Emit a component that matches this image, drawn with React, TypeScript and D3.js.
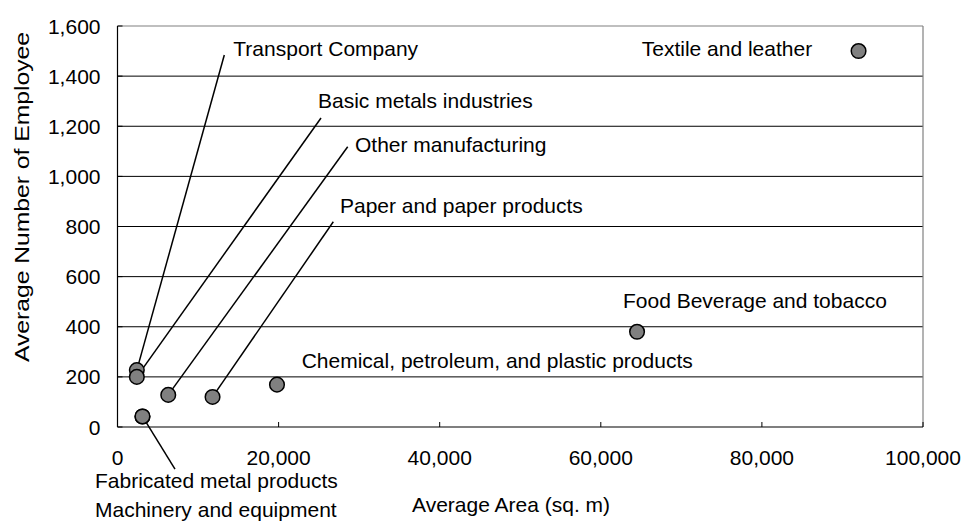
import React from "react";
import * as d3 from "d3";

const categories = [
  "Transport Company",
  "Basic metals industries",
  "Other manufacturing",
  "Paper and paper products",
  "Chemical, petroleum, and plastic products",
  "Food Beverage and tobacco",
  "Textile and leather",
  "Fabricated metal products",
  "Machinery and equipment",
];
const avgArea = [2400, 2400, 6300, 11800, 19800, 64500, 92000, 3100, 3100];
const avgEmployees = [227, 200, 128, 120, 169, 380, 1500, 42, 42];

const xTicks = [0, 20000, 40000, 60000, 80000, 100000];
const yTicks = [0, 200, 400, 600, 800, 1000, 1200, 1400, 1600];

// annotation layout (data units): label position and optional leader-line anchor
const labelLayout = [
  { lx: 14376, ly: 1480, ax: 13259, ay: 1484 },
  { lx: 24891, ly: 1274, ax: 25264, ay: 1233 },
  { lx: 29485, ly: 1097, ax: 28578, ay: 1118 },
  { lx: 27623, ly: 854, ax: 26791, ay: 819 },
  { lx: 22868, ly: 235 },
  { lx: 62756, ly: 475 },
  { lx: 65078, ly: 1480 },
  { lx: -2793, ly: -243, ax: 7138, ay: -168 },
  { lx: -2793, ly: -361 },
];

const W = 966;
const H = 523;
const M = { left: 117.5, right: 923, top: 26, bottom: 427 };
const FONT = "'Liberation Sans', Arial, sans-serif";

export default function App() {
  const x = d3.scaleLinear().domain([0, 100000]).range([M.left, M.right]);
  const y = d3.scaleLinear().domain([0, 1600]).range([M.bottom, M.top]);
  const fmt = d3.format(",");

  return (
    <svg
      width={W}
      height={H}
      style={{ position: "absolute", left: 0, top: 0, background: "#fff" }}
      fontFamily={FONT}
    >
      {/* gridlines */}
      {yTicks.slice(1, -1).map((t) => (
        <line key={t} x1={M.left} x2={M.right} y1={y(t)} y2={y(t)} stroke="#000" strokeWidth={1} />
      ))}
      {/* frame top/right gray */}
      <line x1={M.left} x2={M.right} y1={M.top} y2={M.top} stroke="#808080" strokeWidth={1.2} />
      <line x1={M.right} x2={M.right} y1={M.top} y2={M.bottom} stroke="#808080" strokeWidth={1.2} />
      {/* axes */}
      <line x1={M.left} x2={M.left} y1={M.top} y2={M.bottom} stroke="#000" strokeWidth={1.2} />
      <line x1={M.left} x2={M.right} y1={M.bottom} y2={M.bottom} stroke="#000" strokeWidth={1.2} />
      {xTicks.map((t) => (
        <line key={t} x1={x(t)} x2={x(t)} y1={M.bottom} y2={M.bottom - 5} stroke="#000" strokeWidth={1} />
      ))}
      {yTicks.map((t) => (
        <line key={t} x1={M.left} x2={M.left + 5} y1={y(t)} y2={y(t)} stroke="#000" strokeWidth={1} />
      ))}
      {/* tick labels */}
      {xTicks.map((t) => (
        <text key={t} x={x(t)} y={M.bottom + 38} textAnchor="middle" fontSize={21} fill="#000">
          {fmt(t)}
        </text>
      ))}
      {yTicks.map((t) => (
        <text key={t} x={M.left - 17} y={y(t) + 7.5} textAnchor="end" fontSize={21} fill="#000">
          {fmt(t)}
        </text>
      ))}
      {/* axis titles */}
      <text x={412} y={512} fontSize={21} fill="#000">Average Area (sq. m)</text>
      <text
        transform={`translate(28.5,${197}) rotate(-90)`}
        textAnchor="middle"
        fontSize={21}
        textLength={330}
        lengthAdjust="spacingAndGlyphs"
        fill="#000"
      >
        Average Number of Employee
      </text>
      {/* leader lines */}
      {labelLayout.map((l, i) =>
        l.ax !== undefined ? (
          <line
            key={i}
            x1={x(l.ax)}
            y1={y(l.ay as number)}
            x2={x(avgArea[i])}
            y2={y(avgEmployees[i])}
            stroke="#000"
            strokeWidth={1.5}
          />
        ) : null
      )}
      {/* points */}
      {categories.map((c, i) => (
        <circle
          key={c}
          cx={x(avgArea[i])}
          cy={y(avgEmployees[i])}
          r={7.3}
          fill="#808080"
          stroke="#000"
          strokeWidth={1.5}
        />
      ))}
      {/* labels */}
      {categories.map((c, i) => (
        <text key={c} x={x(labelLayout[i].lx)} y={y(labelLayout[i].ly)} fontSize={21} fill="#000">
          {c}
        </text>
      ))}
    </svg>
  );
}
